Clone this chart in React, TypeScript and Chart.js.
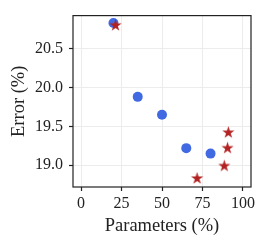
import React, { useEffect, useRef } from "react";
import { Chart, registerables } from "chart.js";

Chart.register(...registerables);

const circleParams = [20, 35, 50, 65, 80];
const circleErrors = [20.83, 19.88, 19.65, 19.22, 19.15];
const starParams = [21.3, 71.7, 88.5, 90.5, 91];
const starErrors = [20.8, 18.83, 18.99, 19.22, 19.42];
const xTicks = [0, 25, 50, 75, 100];
const yTicks = [19.0, 19.5, 20.0, 20.5];

const FONT = "'Liberation Serif', 'Times New Roman', serif";
const TEXT = "#222222";

function makeStar(R: number, color: string): HTMLCanvasElement {
  const size = Math.ceil(2 * R + 2);
  const c = document.createElement("canvas");
  c.width = size;
  c.height = size;
  const ctx = c.getContext("2d")!;
  const cx = size / 2;
  const cy = size / 2;
  const r = R * 0.382;
  ctx.beginPath();
  for (let i = 0; i < 10; i++) {
    const rad = i % 2 === 0 ? R : r;
    const a = -Math.PI / 2 + (i * Math.PI) / 5;
    const x = cx + rad * Math.cos(a);
    const y = cy + rad * Math.sin(a);
    if (i === 0) ctx.moveTo(x, y);
    else ctx.lineTo(x, y);
  }
  ctx.closePath();
  ctx.fillStyle = color;
  ctx.fill();
  return c;
}

const frame = {
  id: "frame",
  afterDatasetsDraw(chart: any) {
    const { ctx, chartArea } = chart;
    ctx.save();
    ctx.strokeStyle = TEXT;
    ctx.lineWidth = 1.2;
    ctx.strokeRect(chartArea.left, chartArea.top, chartArea.right - chartArea.left, chartArea.bottom - chartArea.top);
    ctx.restore();
  },
};

export default function App() {
  const ref = useRef<HTMLCanvasElement>(null);
  useEffect(() => {
    const star = makeStar(6.4, "#B22222");
    const chart = new Chart(ref.current!, {
      type: "scatter",
      data: {
        datasets: [
          {
            data: starParams.map((x, i) => ({ x, y: starErrors[i] })),
            pointStyle: star as any,
            pointRadius: 6,
            backgroundColor: "#B22222",
          },
          {
            data: circleParams.map((x, i) => ({ x, y: circleErrors[i] })),
            pointStyle: "circle",
            pointRadius: 5,
            borderWidth: 0,
            backgroundColor: "#4169E1",
          },
        ],
      },
      options: {
        animation: false,
        responsive: false,
        events: [],
        layout: { padding: { top: 11, right: 15, left: 0, bottom: 0 } },
        plugins: { legend: { display: false }, tooltip: { enabled: false } },
        scales: {
          x: {
            type: "linear",
            min: -5,
            max: 105,
            afterBuildTicks: (s: any) => {
              s.ticks = xTicks.map((v) => ({ value: v }));
            },
            afterFit: (s: any) => {
              s.height = 60;
            },
            grid: { color: "#ececec", lineWidth: 1, tickLength: 4, tickColor: TEXT, tickWidth: 1.2 },
            border: { display: false },
            ticks: { color: TEXT, font: { family: FONT, size: 16 }, padding: 3, maxRotation: 0 },
            title: { display: true, text: "Parameters (%)", color: TEXT, font: { family: FONT, size: 18.5 }, padding: { top: 0, bottom: 10 } },
          },
          y: {
            type: "linear",
            min: 18.72,
            max: 20.926,
            afterBuildTicks: (s: any) => {
              s.ticks = yTicks.map((v) => ({ value: v }));
            },
            afterFit: (s: any) => {
              s.width = 73;
            },
            grid: { color: "#ececec", lineWidth: 1, tickLength: 4, tickColor: TEXT, tickWidth: 1.2 },
            border: { display: false },
            ticks: { color: TEXT, font: { family: FONT, size: 16 }, padding: 6, callback: (v: any) => Number(v).toFixed(1) },
            title: { display: true, text: "Error (%)", color: TEXT, font: { family: FONT, size: 18.5 }, padding: { top: 8, bottom: 0 } },
          },
        },
      },
      plugins: [frame],
    });
    return () => chart.destroy();
  }, []);
  return (
    <div style={{ position: "fixed", left: 0, top: 0, width: 266, height: 247, background: "#fff" }}>
      <canvas ref={ref} width={266} height={247} style={{ display: "block", width: 266, height: 247 }} />
    </div>
  );
}
